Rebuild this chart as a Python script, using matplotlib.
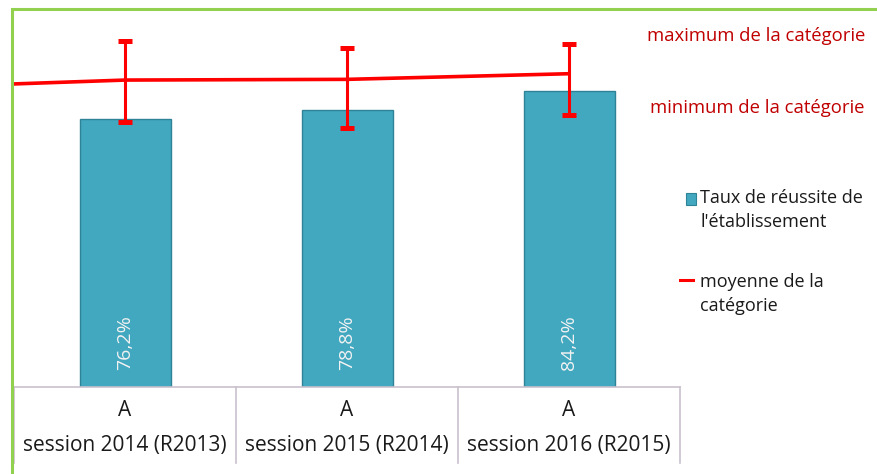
import numpy as np
import matplotlib.pyplot as plt
from matplotlib.patches import Rectangle
from matplotlib.lines import Line2D

plt.rcParams['font.family'] = ['Open Sans', 'DejaVu Sans']

# Data
sessions = ['session 2014 (R2013)', 'session 2015 (R2014)', 'session 2016 (R2015)']
groups = ['A', 'A', 'A']
taux = [76.2, 78.8, 84.2]
bar_labels = ['76,2%', '78,8%', '84,2%']
# mean of category; first value belongs to the previous session (off the left edge)
moy_x = [-1, 0, 1, 2]
moy = [85.0, 87.2, 87.4, 89.0]
cat_max = [98.2, 96.2, 97.4]
cat_min = [75.4, 73.7, 77.3]

W, H = 877, 474
fig = plt.figure(figsize=(W / 100, H / 100), dpi=100)

# chart border (green)
fig.patches.append(Rectangle((12 / W, -0.1), 1.2, (H - 9) / H + 0.1, transform=fig.transFigure,
                             fill=False, edgecolor='#92D050', linewidth=2.2, zorder=0))

ax = fig.add_axes([13 / W, (H - 387) / H, (680 - 13) / W, 352 / H])
ax.patch.set_alpha(0)
for s in ax.spines.values():
    s.set_visible(False)
ax.set_xticks([])
ax.set_yticks([])
ax.set_xlim(-0.505, 2.5)
ax.set_ylim(0, 100)

x = np.arange(len(taux))
ax.bar(x, taux, width=0.41, color='#42A8C0', edgecolor='#2F8396', linewidth=1, zorder=2)
for xi, lab in zip(x, bar_labels):
    ax.text(xi, 12.5, lab, rotation=90, ha='center', va='center', color='#F2F2F2',
            fontsize=14, zorder=3)

ax.plot(moy_x, moy, color='#FF0000', linewidth=2.6, zorder=4, solid_capstyle='butt')

err = [np.array(moy[1:]) - np.array(cat_min), np.array(cat_max) - np.array(moy[1:])]
eb = ax.errorbar(x, moy[1:], yerr=err, fmt='none', ecolor='#FF0000', elinewidth=2.2,
                 capsize=5, capthick=3.6, zorder=5)
for cap in eb[1]:
    cap.set_color('#D01020')

# category table below the axis
tr = ax.get_xaxis_transform()
tcol = '#C9C0CC'
ax.plot([-0.5, 2.5], [0, 0], color=tcol, linewidth=1.2, transform=tr, clip_on=False)
for xv in [-0.5, 0.5, 1.5, 2.5]:
    ax.plot([xv, xv], [0, -(463 - 387) / 352], color=tcol, linewidth=1.2, transform=tr, clip_on=False)
for xi, g, s in zip(x, groups, sessions):
    ax.text(xi, -(411 - 387) / 352, g, ha='center', va='center', fontsize=15, color='#1A1A1A', transform=tr)
    ax.text(xi, -(446 - 387) / 352, s, ha='center', va='center', fontsize=15, color='#1A1A1A', transform=tr)

# annotations on the right
fig.text(865 / W, 1 - 36 / H, 'maximum de la catégorie', ha='right', va='center', color='#C00000', fontsize=13.3)
fig.text(865 / W, 1 - 108 / H, 'minimum de la catégorie', ha='right', va='center', color='#C00000', fontsize=13.3)

# legend
fig.patches.append(Rectangle((686 / W, 1 - 205 / H), 10 / W, 12 / H, transform=fig.transFigure,
                             facecolor='#42A8C0', edgecolor='#2F8396', linewidth=0.8))
fig.lines.append(Line2D([680 / W, 693 / W], [1 - 280 / H, 1 - 280 / H], transform=fig.transFigure,
                        color='#FF0000', linewidth=2.2))
fig.text(700 / W, 1 - 198 / H, 'Taux de réussite de', ha='left', va='center', fontsize=13, color='#1A1A1A')
fig.text(700 / W, 1 - 222 / H, "l'établissement", ha='left', va='center', fontsize=13, color='#1A1A1A')
fig.text(700 / W, 1 - 282 / H, 'moyenne de la', ha='left', va='center', fontsize=13, color='#1A1A1A')
fig.text(700 / W, 1 - 306 / H, 'catégorie', ha='left', va='center', fontsize=13, color='#1A1A1A')

fig.savefig('out.png', dpi=100)
